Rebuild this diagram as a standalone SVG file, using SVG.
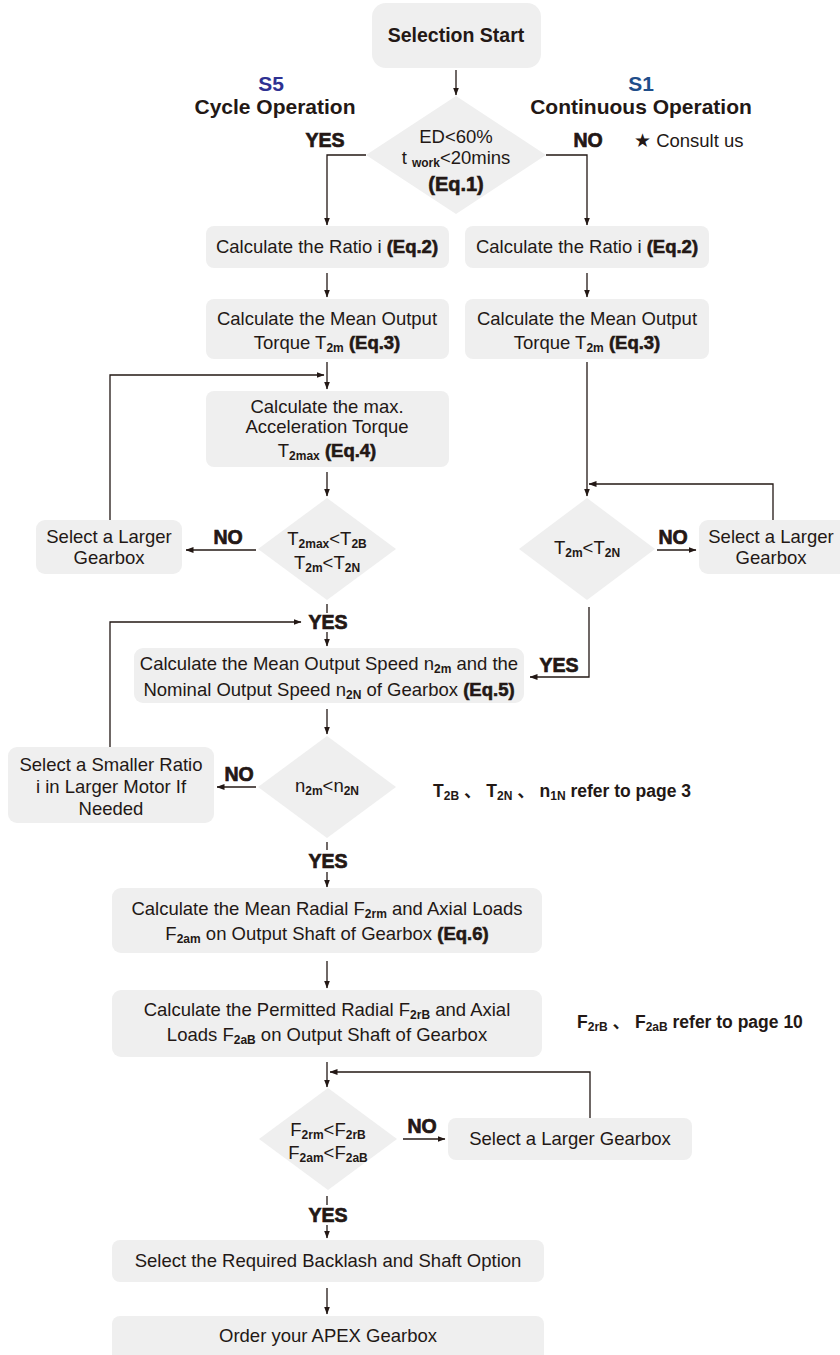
<svg xmlns="http://www.w3.org/2000/svg" width="840" height="1355" viewBox="0 0 840 1355">
<style>
.bx{fill:#efefef}
.t{font-family:"Liberation Sans",Arial,sans-serif;font-size:18.5px;fill:#231815;text-anchor:middle}
.b{font-family:"Liberation Sans",Arial,sans-serif;font-weight:bold;fill:#231815;text-anchor:middle}
.lab{font-size:19.5px;stroke:#231815;stroke-width:0.7}
.eq{font-weight:bold;stroke:#231815;stroke-width:0.6}
.sb{font-size:12px;font-weight:bold}
.cn{font-family:"Liberation Sans","Noto Sans CJK SC",sans-serif}
.ln{fill:none;stroke:#231815;stroke-width:1.3}
</style>
<defs>
<marker id="ah" markerWidth="8" markerHeight="7" refX="7.5" refY="3.5" orient="auto" markerUnits="userSpaceOnUse">
<path d="M0,0.5 L8,3.5 L0,6.5 z" fill="#231815"/>
</marker>
</defs>

<g id="connectors">
<path class="ln" d="M456 70 V95" marker-end="url(#ah)"/>
<path class="ln" d="M366 155 H327 V225" marker-end="url(#ah)"/>
<path class="ln" d="M546 155 H587 V225" marker-end="url(#ah)"/>
<path class="ln" d="M327 273 V297" marker-end="url(#ah)"/>
<path class="ln" d="M587 273 V297" marker-end="url(#ah)"/>
<path class="ln" d="M327 362 V389" marker-end="url(#ah)"/>
<path class="ln" d="M110 520 V375 H324" marker-end="url(#ah)"/>
<path class="ln" d="M587 362 V496" marker-end="url(#ah)"/>
<path class="ln" d="M327 472 V496" marker-end="url(#ah)"/>
<path class="ln" d="M256 550 H186" marker-end="url(#ah)"/>
<path class="ln" d="M657 550 H696" marker-end="url(#ah)"/>
<path class="ln" d="M773 520 V484 H589" marker-end="url(#ah)"/>
<path class="ln" d="M327 604 V613"/>
<path class="ln" d="M327 632 V646" marker-end="url(#ah)"/>
<path class="ln" d="M110 747 V622 H301" marker-end="url(#ah)"/>
<path class="ln" d="M589 607 V677 H530" marker-end="url(#ah)"/>
<path class="ln" d="M327 709 V734" marker-end="url(#ah)"/>
<path class="ln" d="M256 787 H217" marker-end="url(#ah)"/>
<path class="ln" d="M327 842 V850"/>
<path class="ln" d="M327 872 V887" marker-end="url(#ah)"/>
<path class="ln" d="M327 961 V988" marker-end="url(#ah)"/>
<path class="ln" d="M327 1062 V1087" marker-end="url(#ah)"/>
<path class="ln" d="M590 1118 V1072 H330" marker-end="url(#ah)"/>
<path class="ln" d="M403 1139 H445" marker-end="url(#ah)"/>
<path class="ln" d="M327 1196 V1205"/>
<path class="ln" d="M327 1225 V1238" marker-end="url(#ah)"/>
<path class="ln" d="M327 1288 V1314" marker-end="url(#ah)"/>
</g>

<g id="labels">
<text class="b" x="271" y="91" font-size="21" style="fill:#2e3192">S5</text>
<text class="b" x="275" y="114" font-size="21">Cycle Operation</text>
<text class="b" x="641" y="91" font-size="21" style="fill:#1f4e8a">S1</text>
<text class="b" x="641" y="114" font-size="21">Continuous Operation</text>
<text class="b lab" x="325" y="147">YES</text>
<text class="b lab" x="588" y="147">NO</text>
<text class="t" x="634" y="147" style="text-anchor:start">★ Consult us</text>
<text class="b lab" x="228" y="544">NO</text>
<text class="b lab" x="673" y="544">NO</text>
<text class="b lab" x="328" y="629">YES</text>
<text class="b lab" x="559" y="672">YES</text>
<text class="b lab" x="239" y="781">NO</text>
<text class="b lab" x="328" y="868">YES</text>
<text class="b lab" x="422" y="1133">NO</text>
<text class="b lab" x="328" y="1222">YES</text>
<text class="b cn" x="433" y="797" font-size="17.5" style="text-anchor:start">T<tspan class="sb" dy="3">2B</tspan><tspan dy="-3"> 、 T</tspan><tspan class="sb" dy="3">2N</tspan><tspan dy="-3"> 、 n</tspan><tspan class="sb" dy="3">1N</tspan><tspan dy="-3"> refer to page 3</tspan></text>
<text class="b cn" x="577" y="1028" font-size="17.5" style="text-anchor:start">F<tspan class="sb" dy="3">2rB</tspan><tspan dy="-3"> 、 F</tspan><tspan class="sb" dy="3">2aB</tspan><tspan dy="-3"> refer to page 10</tspan></text>
</g>

<g id="start">
<rect class="bx" x="372" y="3" width="169" height="65" rx="14"/>
<text class="b" x="456" y="42" font-size="19.5">Selection Start</text>
</g>

<g id="d1">
<polygon class="bx" points="456,96 546,155 456,214 366,155"/>
<text class="t" x="456" y="143">ED&lt;60%</text>
<text class="t" x="456" y="164">t <tspan class="sb" dy="3">work</tspan><tspan dy="-3">&lt;20mins</tspan></text>
<text class="b" x="456" y="191" font-size="20" stroke="#231815" stroke-width="0.6">(Eq.1)</text>
</g>

<g id="ratioL">
<rect class="bx" x="206" y="226" width="243" height="42" rx="8"/>
<text class="t" x="327" y="253">Calculate the Ratio i <tspan class="eq">(Eq.2)</tspan></text>
</g>
<g id="ratioR">
<rect class="bx" x="465" y="226" width="244" height="42" rx="8"/>
<text class="t" x="587" y="253">Calculate the Ratio i <tspan class="eq">(Eq.2)</tspan></text>
</g>

<g id="torqueL">
<rect class="bx" x="206" y="299" width="243" height="60" rx="8"/>
<text class="t" x="327" y="325">Calculate the Mean Output</text>
<text class="t" x="327" y="349">Torque T<tspan class="sb" dy="3">2m</tspan><tspan dy="-3"> </tspan><tspan class="eq">(Eq.3)</tspan></text>
</g>
<g id="torqueR">
<rect class="bx" x="465" y="299" width="244" height="60" rx="8"/>
<text class="t" x="587" y="325">Calculate the Mean Output</text>
<text class="t" x="587" y="349">Torque T<tspan class="sb" dy="3">2m</tspan><tspan dy="-3"> </tspan><tspan class="eq">(Eq.3)</tspan></text>
</g>

<g id="accel">
<rect class="bx" x="206" y="391" width="243" height="76" rx="8"/>
<text class="t" x="327" y="413">Calculate the max.</text>
<text class="t" x="327" y="433">Acceleration Torque</text>
<text class="t" x="327" y="457">T<tspan class="sb" dy="3">2max</tspan><tspan dy="-3"> </tspan><tspan class="eq">(Eq.4)</tspan></text>
</g>

<g id="d2">
<polygon class="bx" points="327,498 396,549 327,600 258,549"/>
<text class="t" x="327" y="545">T<tspan class="sb" dy="3">2max</tspan><tspan dy="-3">&lt;T</tspan><tspan class="sb" dy="3">2B</tspan></text>
<text class="t" x="327" y="569">T<tspan class="sb" dy="3">2m</tspan><tspan dy="-3">&lt;T</tspan><tspan class="sb" dy="3">2N</tspan></text>
</g>

<g id="largerL">
<rect class="bx" x="36" y="520" width="146" height="54" rx="9"/>
<text class="t" x="109" y="543">Select a Larger</text>
<text class="t" x="109" y="564">Gearbox</text>
</g>

<g id="d3">
<polygon class="bx" points="587,498 655,549 587,600 519,549"/>
<text class="t" x="587" y="554">T<tspan class="sb" dy="3">2m</tspan><tspan dy="-3">&lt;T</tspan><tspan class="sb" dy="3">2N</tspan></text>
</g>

<g id="largerR">
<rect class="bx" x="699" y="520" width="152" height="54" rx="9"/>
<text class="t" x="771" y="543">Select a Larger</text>
<text class="t" x="771" y="564">Gearbox</text>
</g>

<g id="speed">
<rect class="bx" x="134" y="648" width="390" height="55" rx="9"/>
<text class="t" x="329" y="670">Calculate the Mean Output Speed n<tspan class="sb" dy="3">2m</tspan><tspan dy="-3"> and the</tspan></text>
<text class="t" x="329" y="696">Nominal Output Speed n<tspan class="sb" dy="3">2N</tspan><tspan dy="-3"> of Gearbox </tspan><tspan class="eq">(Eq.5)</tspan></text>
</g>

<g id="d4">
<polygon class="bx" points="327,736 396,787 327,838 258,787"/>
<text class="t" x="327" y="792">n<tspan class="sb" dy="3">2m</tspan><tspan dy="-3">&lt;n</tspan><tspan class="sb" dy="3">2N</tspan></text>
</g>

<g id="smaller">
<rect class="bx" x="8" y="747" width="206" height="76" rx="9"/>
<text class="t" x="111" y="771">Select a Smaller Ratio</text>
<text class="t" x="111" y="793">i in Larger Motor If</text>
<text class="t" x="111" y="815">Needed</text>
</g>

<g id="loads">
<rect class="bx" x="112" y="888" width="430" height="65" rx="9"/>
<text class="t" x="327" y="915">Calculate the Mean Radial F<tspan class="sb" dy="3">2rm</tspan><tspan dy="-3"> and Axial Loads</tspan></text>
<text class="t" x="327" y="940">F<tspan class="sb" dy="3">2am</tspan><tspan dy="-3"> on Output Shaft of Gearbox </tspan><tspan class="eq">(Eq.6)</tspan></text>
</g>

<g id="permitted">
<rect class="bx" x="112" y="990" width="430" height="67" rx="9"/>
<text class="t" x="327" y="1016">Calculate the Permitted Radial F<tspan class="sb" dy="3">2rB</tspan><tspan dy="-3"> and Axial</tspan></text>
<text class="t" x="327" y="1041">Loads F<tspan class="sb" dy="3">2aB</tspan><tspan dy="-3"> on Output Shaft of Gearbox</tspan></text>
</g>

<g id="d5">
<polygon class="bx" points="328,1088 397,1139 328,1190 259,1139"/>
<text class="t" x="328" y="1136">F<tspan class="sb" dy="3">2rm</tspan><tspan dy="-3">&lt;F</tspan><tspan class="sb" dy="3">2rB</tspan></text>
<text class="t" x="328" y="1159">F<tspan class="sb" dy="3">2am</tspan><tspan dy="-3">&lt;F</tspan><tspan class="sb" dy="3">2aB</tspan></text>
</g>

<g id="largerB">
<rect class="bx" x="448" y="1118" width="244" height="42" rx="8"/>
<text class="t" x="570" y="1145">Select a Larger Gearbox</text>
</g>

<g id="backlash">
<rect class="bx" x="112" y="1240" width="432" height="42" rx="8"/>
<text class="t" x="328" y="1267">Select the Required Backlash and Shaft Option</text>
</g>

<g id="order">
<rect class="bx" x="112" y="1316" width="432" height="46" rx="8"/>
<text class="t" x="328" y="1342">Order your APEX Gearbox</text>
</g>
</svg>
